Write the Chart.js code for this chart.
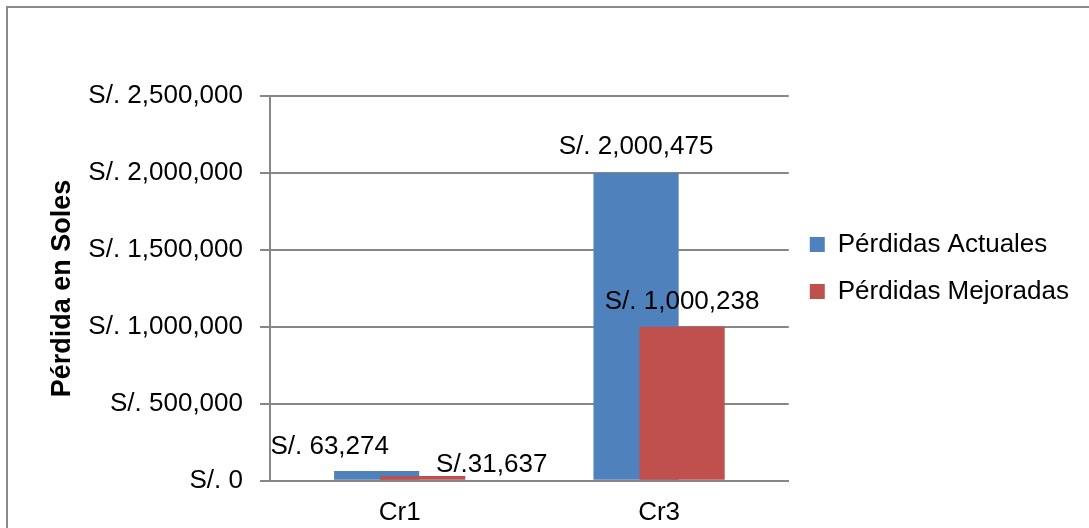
<!DOCTYPE html>
<html>
<head>
<meta charset="utf-8">
<script src="https://cdn.jsdelivr.net/npm/chart.js"></script>
<style>
  body { margin: 0; background: #fff; overflow: hidden; }
  canvas { display: block; }
</style>
</head>
<body>
<canvas id="perdidas" width="1089" height="528"></canvas>
<script>
    // data
    const categories = ['Cr1', 'Cr3'];
    const seriesNames = ['Pérdidas Actuales', 'Pérdidas Mejoradas'];
    const actuales = [63274, 2000475];
    const mejoradas = [31637, 1000238];
    const actualesText = ['S/. 63,274', 'S/. 2,000,475'];
    const mejoradasText = ['S/.31,637', 'S/. 1,000,238'];
    const yMax = 2500000;
    const yStep = 500000;

    // where each value label sits, relative to the top of its bar (dx, dy)
    const labelOffsets = [
        [[-47, -24], [0, -26]],
        [[69, -11], [0, -25]]
    ];

    const gridGray = '#878787';
    Chart.defaults.font.family = '"Liberation Sans", Arial, sans-serif';
    Chart.defaults.color = '#000';

    // Excel paints the second series over the first, chart.js does the reverse
    const drawInOrder = {
        id: 'drawInOrder',
        beforeDatasetsDraw(chart) {
            for (let i = 0; i < chart.data.datasets.length; i++) {
                chart.getDatasetMeta(i).controller.draw();
            }
            return false;
        }
    };

    const frame = {
        id: 'frame',
        beforeDraw(chart) {
            const ctx = chart.ctx;
            ctx.save();
            ctx.strokeStyle = '#8a8a8a';
            ctx.lineWidth = 2;
            ctx.strokeRect(7, 7, chart.width + 20, chart.height + 20);
            ctx.restore();
        }
    };

    const valueLabels = {
        id: 'valueLabels',
        afterDraw(chart) {
            const texts = [actualesText, mejoradasText];
            const ctx = chart.ctx;
            ctx.save();
            ctx.font = '26px "Liberation Sans", Arial, sans-serif';
            ctx.fillStyle = '#000';
            ctx.textAlign = 'center';
            ctx.textBaseline = 'middle';
            chart.data.datasets.forEach((ds, i) => {
                chart.getDatasetMeta(i).data.forEach((bar, j) => {
                    const off = labelOffsets[i][j];
                    ctx.fillText(texts[i][j], bar.x + off[0], bar.y + off[1]);
                });
            });
            ctx.restore();
        }
    };

    const ctx = document.getElementById('perdidas').getContext('2d');
    const chart = new Chart(ctx, {
        type: 'bar',
        data: {
            labels: categories,
            datasets: [{
                label: seriesNames[0],
                data: actuales,
                backgroundColor: '#4F81BD',
                categoryPercentage: 0.355,
                barPercentage: 1.85
            }, {
                label: seriesNames[1],
                data: mejoradas,
                backgroundColor: '#C0504D',
                categoryPercentage: 0.355,
                barPercentage: 1.85
            }]
        },
        options: {
            responsive: false,
            animation: false,
            layout: { padding: { left: 0, right: 10, top: 8, bottom: 0 } },
            scales: {
                x: {
                    grid: { display: false, drawTicks: true, tickLength: 16 },
                    border: { display: true, color: gridGray, width: 2 },
                    ticks: { padding: 0, font: { size: 26 } }
                },
                y: {
                    min: 0,
                    max: yMax,
                    afterFit: (axis) => { axis.width = 270; },
                    ticks: {
                        stepSize: yStep,
                        padding: 17,
                        font: { size: 26 },
                        callback: (v) => 'S/. ' + v.toLocaleString('en-US')
                    },
                    grid: { color: gridGray, lineWidth: 2, tickLength: 10 },
                    border: { display: true, color: gridGray, width: 2 },
                    title: {
                        display: true,
                        text: 'Pérdida en Soles',
                        font: { size: 27, weight: 'bold' },
                        padding: { top: 46, bottom: 0 }
                    }
                }
            },
            plugins: {
                // empty title only to push the plot area down
                title: { display: true, text: '', padding: 0, font: { size: 80, lineHeight: 1.1 } },
                legend: {
                    position: 'right',
                    align: 'center',
                    maxWidth: 320,
                    labels: {
                        boxWidth: 15,
                        boxHeight: 15,
                        padding: 21,
                        font: { size: 26 },
                        color: '#000'
                    }
                },
                tooltip: { enabled: false }
            }
        },
        plugins: [frame, drawInOrder, valueLabels]
    });
</script>
</body>
</html>
